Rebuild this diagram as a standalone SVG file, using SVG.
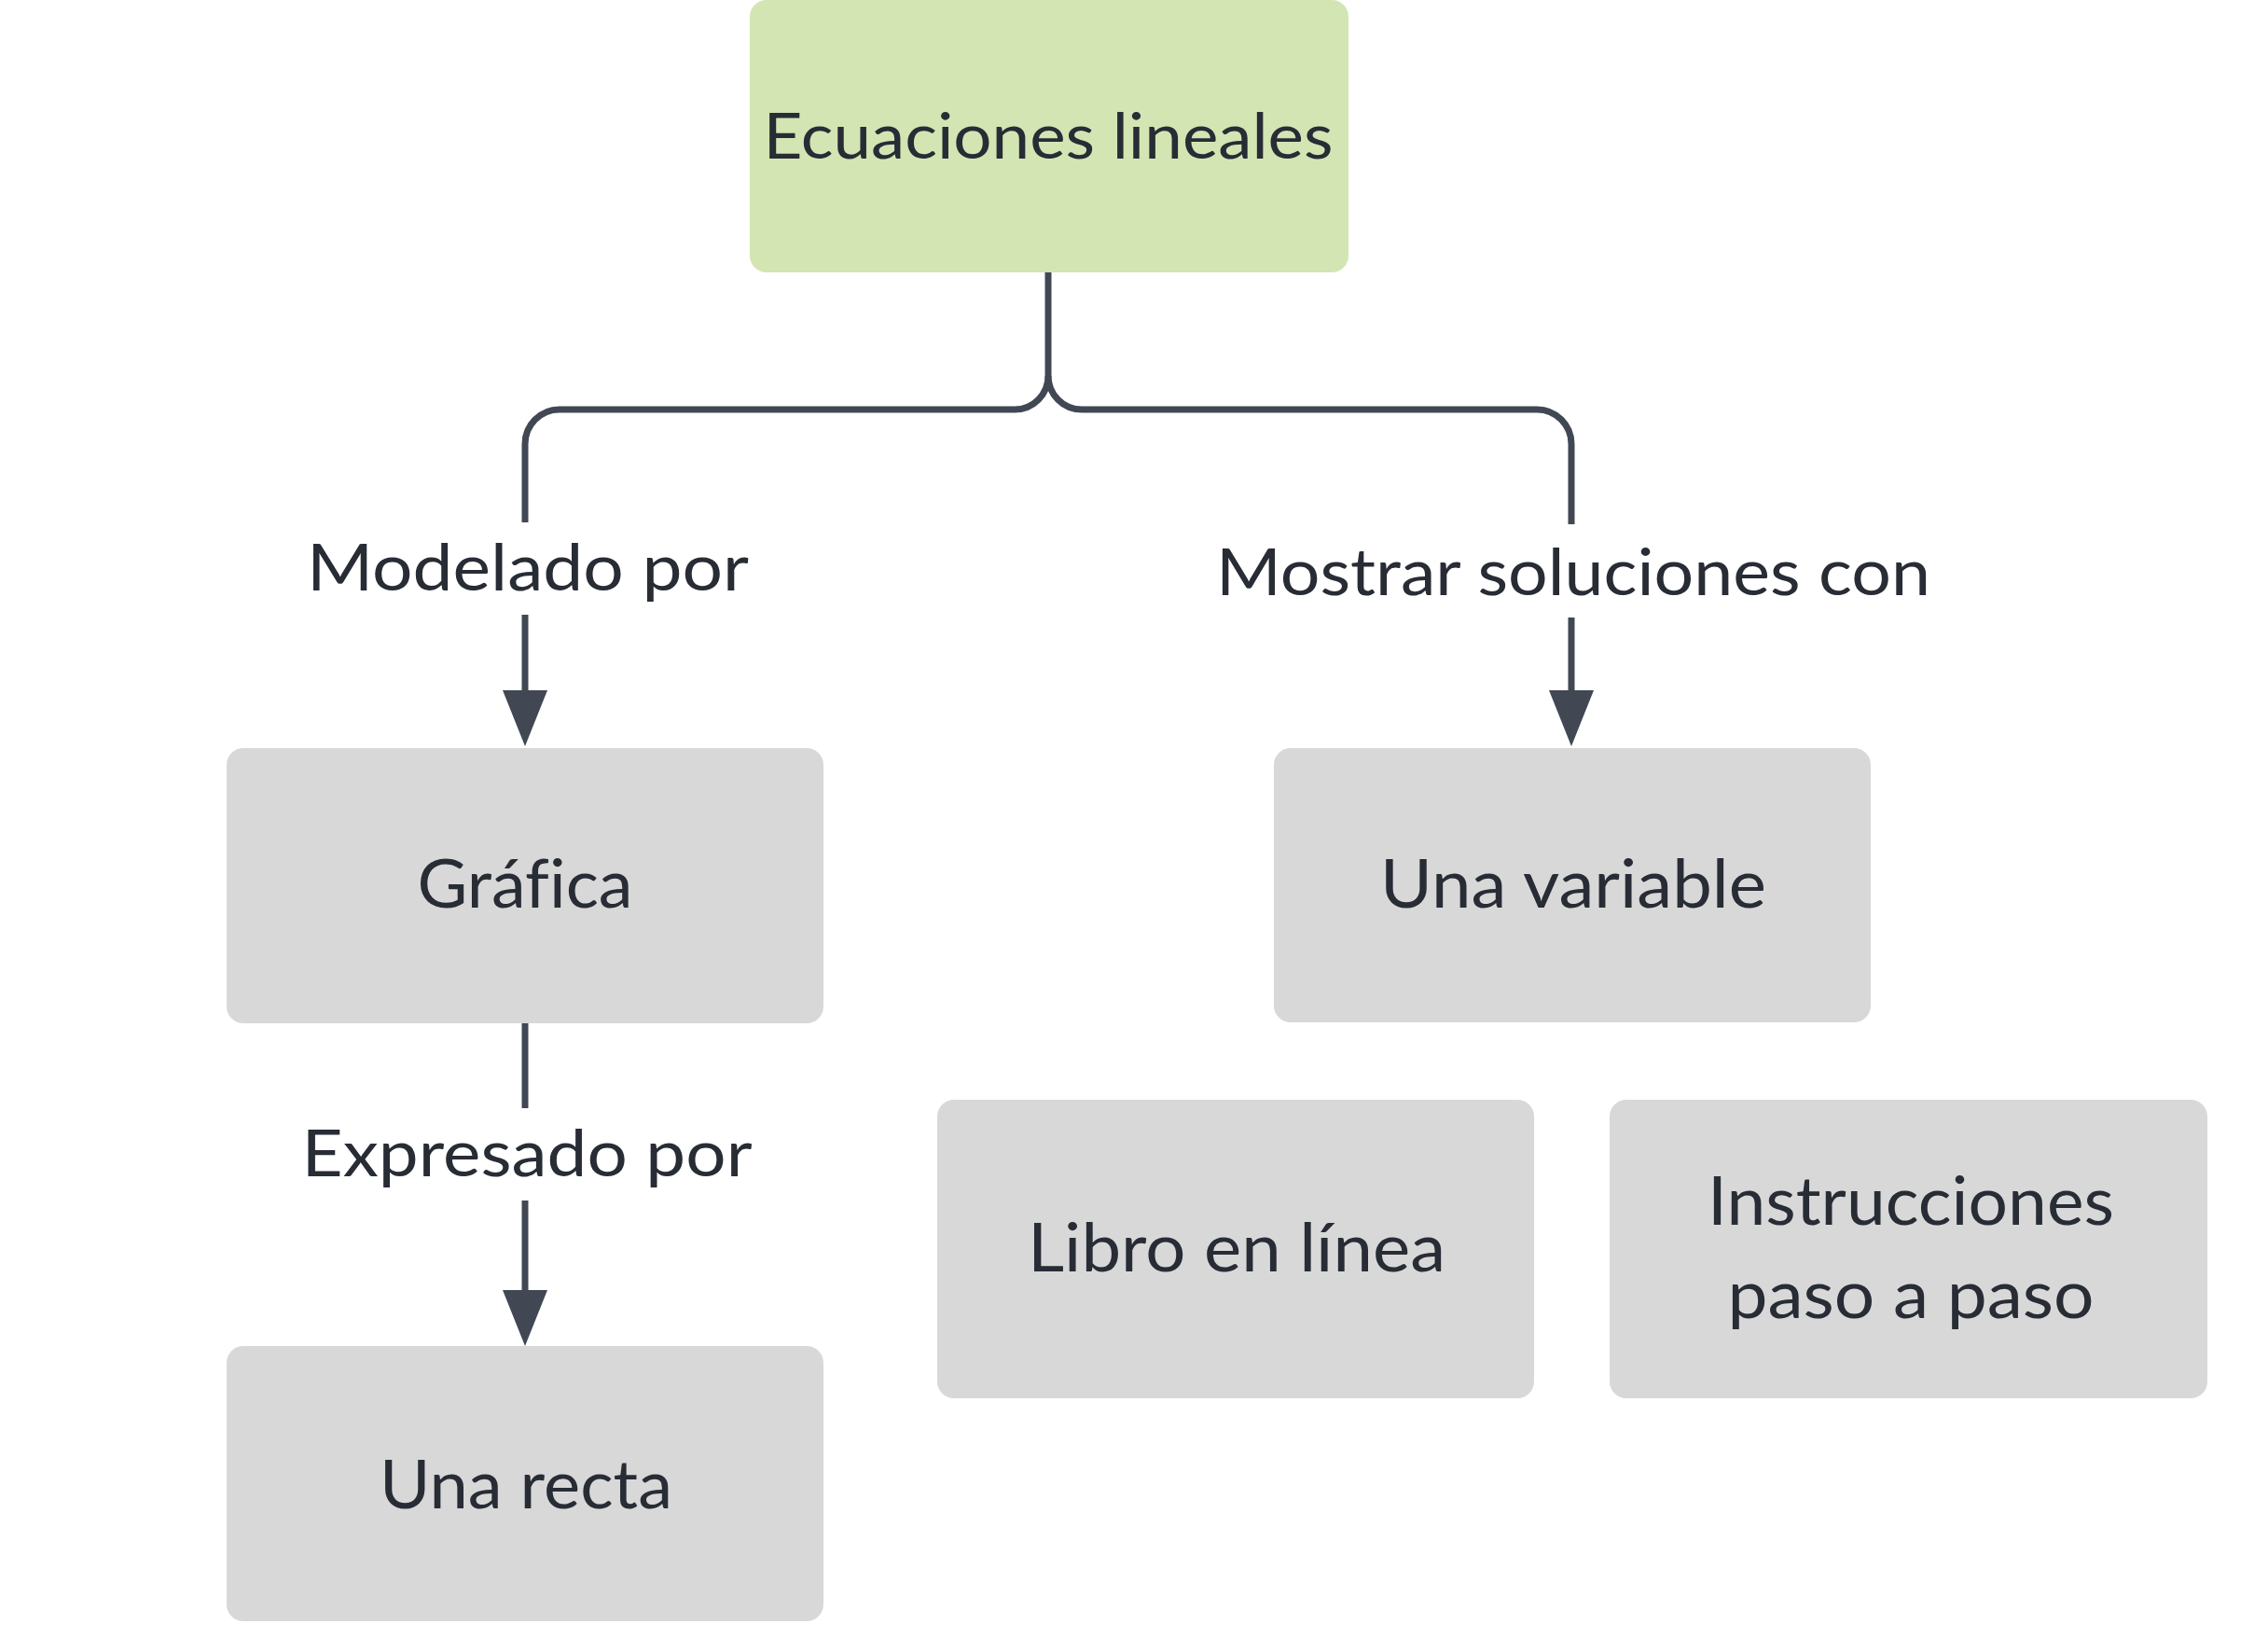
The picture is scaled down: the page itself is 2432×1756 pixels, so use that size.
<svg xmlns="http://www.w3.org/2000/svg" width="2432" height="1756" viewBox="0 0 2432 1756">
<style>
.node{fill:#d8d8d8}
.root{fill:#d3e5b3}
.t{font-family:Lato,"Noto Sans",sans-serif;fill:#272c35;text-anchor:middle;font-variant-ligatures:none}
.nt{font-size:72px}
.et{font-size:70px}
.c{fill:none;stroke:#414854;stroke-width:7}
</style>
<defs>
<marker id="arr" markerUnits="userSpaceOnUse" markerWidth="60" markerHeight="48" refX="30" refY="24" orient="auto" viewBox="0 0 60 48">
<path d="M0,0 L60,24 L0,48 Z" fill="#414854"/>
</marker>
</defs>
<rect width="2432" height="1756" fill="#ffffff"/>
<g id="connectors">
<path class="c" d="M1124,292 V403 A36,36 0 0 1 1088,439 H600 A37,37 0 0 0 563,476 V560"/>
<path class="c" d="M1124,403 A36,36 0 0 0 1160,439 H1648 A37,37 0 0 1 1685,476 V562"/>
<path class="c" d="M563,659 V770" marker-end="url(#arr)"/>
<path class="c" d="M1685,662 V770" marker-end="url(#arr)"/>
<path class="c" d="M563,1097 V1188"/>
<path class="c" d="M563,1287 V1413" marker-end="url(#arr)"/>
<text class="t et" x="566" y="633" textLength="474" lengthAdjust="spacingAndGlyphs">Modelado por</text>
<text class="t et" x="1687" y="638" textLength="766" lengthAdjust="spacingAndGlyphs">Mostrar soluciones con</text>
<text class="t et" x="565" y="1261" textLength="483" lengthAdjust="spacingAndGlyphs">Expresado por</text>
</g>
<g id="node-ecuaciones">
<rect class="root" x="804" y="0" width="642" height="292" rx="18"/>
<text class="t" style="font-size:67px" x="1124" y="170" textLength="611" lengthAdjust="spacingAndGlyphs">Ecuaciones lineales</text>
</g>
<g id="node-grafica">
<rect class="node" x="243" y="802" width="640" height="295" rx="18"/>
<text class="t nt" x="563" y="973" textLength="231" lengthAdjust="spacingAndGlyphs">Gráfica</text>
</g>
<g id="node-variable">
<rect class="node" x="1366" y="802" width="640" height="294" rx="18"/>
<text class="t nt" x="1687" y="973" textLength="414" lengthAdjust="spacingAndGlyphs">Una variable</text>
</g>
<g id="node-recta">
<rect class="node" x="243" y="1443" width="640" height="295" rx="18"/>
<text class="t nt" x="564" y="1617" textLength="314" lengthAdjust="spacingAndGlyphs">Una recta</text>
</g>
<g id="node-libro">
<rect class="node" x="1005" y="1179" width="640" height="320" rx="18"/>
<text class="t nt" x="1326" y="1363" textLength="448" lengthAdjust="spacingAndGlyphs">Libro en línea</text>
</g>
<g id="node-instrucciones">
<rect class="node" x="1726" y="1179" width="641" height="320" rx="18"/>
<text class="t nt" x="2049" y="1313" textLength="436" lengthAdjust="spacingAndGlyphs">Instrucciones</text>
<text class="t nt" x="2049" y="1413" textLength="393" lengthAdjust="spacingAndGlyphs">paso a paso</text>
</g>
</svg>
